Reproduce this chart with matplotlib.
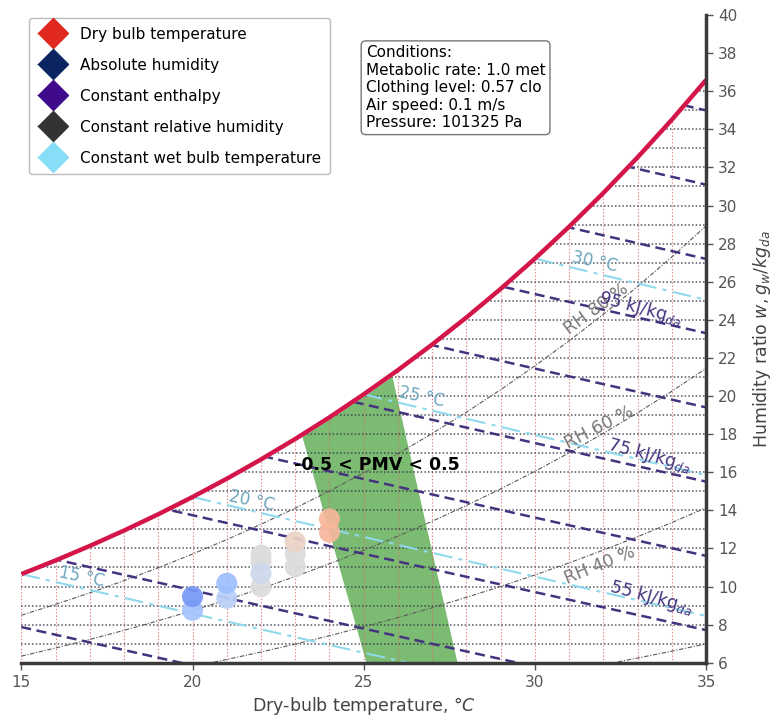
import numpy as np
import matplotlib
matplotlib.use("Agg")
import matplotlib.pyplot as plt
from matplotlib.lines import Line2D
from matplotlib import colors

# saturation vapour pressure of water (kPa) at each whole degree from 15 to 35 C
t_db = np.arange(15, 36)
p_sat = np.array([1.7057, 1.8188, 1.9384, 2.0647, 2.1983, 2.3392, 2.4878, 2.6448,
                  2.8105, 2.9852, 3.1699, 3.3639, 3.5681, 3.7831, 4.0090, 4.2470,
                  4.4969, 4.7596, 5.0354, 5.3251, 5.6290])
pressure = 101.325  # kPa

rh_levels = [20, 40, 60, 80]                                   # %
enthalpy_levels = [35, 45, 55, 65, 75, 85, 95, 105, 115, 125]  # kJ/kg_da
wet_bulb_levels = [15, 20, 25, 30]                             # C

# measured room states: dry bulb (C), humidity ratio (g/kg), PMV
pt_t = [20, 20, 21, 21, 22, 22, 22, 22, 23, 23, 23, 24, 24]
pt_w = [8.75, 9.47, 9.38, 10.17, 9.99, 11.65, 11.3, 10.69, 11.04, 11.7, 12.35, 12.85, 13.55]
pt_pmv = [-0.36, -0.64, -0.24, -0.40, 0.0, 0.0, 0.0, -0.12, 0.0, 0.0, 0.12, 0.34, 0.34]

# comfort zone -0.5 < PMV < 0.5 (clipped by the saturation curve)
zone_t = [25.08, 27.74, 25.46, 22.24]
zone_w = [6, 6, 24, 24]

conditions = ("Conditions:\nMetabolic rate: 1.0 met\nClothing level: 0.57 clo\n"
              "Air speed: 0.1 m/s\nPressure: 101325 Pa")


def w_from_pv(pv):
    return 622.0 * pv / (pressure - pv)


w_sat = w_from_pv(p_sat)

c_db = '#e06a6a'
c_abs = '#333a4a'
c_h = '#45337f'
c_rh = '#5a5a5a'
c_wb = '#8fd9ec'

fig = plt.figure(figsize=(7.73, 7.18), dpi=100)
ax = fig.add_axes([0.0276, 0.077, 0.8858, 0.9021])
ax.set_xlim(15, 35)
ax.set_ylim(6, 40)

# comfort zone
ax.fill(zone_t, zone_w, color='#7cbb72', lw=0, zorder=1)

# grid of dry bulb / humidity ratio, only below saturation
ax.vlines(t_db[:-1], 6, w_sat[:-1], color=c_db, ls=(0, (1.2, 1.8)), lw=0.8,
          alpha=0.85, zorder=2)
for w in range(7, 40):
    ax.axhline(w, color=c_abs, ls=(0, (1, 1.4)), lw=1.1, alpha=0.85, zorder=2)

# relative humidity lines
for rh in rh_levels:
    ax.plot(t_db, w_from_pv(rh / 100 * p_sat), color=c_rh, lw=0.8,
            ls=(0, (4, 1.5, 1, 1.5)), zorder=3)

# enthalpy lines
for h in enthalpy_levels:
    w_h = (h - 1.006 * t_db) / (2501 + 1.86 * t_db) * 1000
    ax.plot(t_db, w_h, color=c_h, lw=1.8, ls=(0, (4, 2.2)), zorder=3)

# wet bulb lines
for tw in wet_bulb_levels:
    ws = w_sat[tw - 15] / 1000
    tt = t_db[t_db >= tw]
    w_wb = ((2501 - 2.326 * tw) * ws - 1.006 * (tt - tw)) / (2501 + 1.86 * tt - 4.186 * tw) * 1000
    ax.plot(tt, w_wb, color=c_wb, lw=1.5, ls=(0, (9, 3, 2, 3)), zorder=3)

# blank out the region above saturation
ax.fill_between(t_db, w_sat, 42, facecolor='white', edgecolor='white', lw=2, zorder=4)
ax.plot(t_db, w_sat, color='#d4154a', lw=3.2, zorder=5, solid_capstyle='butt')

# data points
ax.scatter(pt_t, pt_w, c=pt_pmv, cmap='coolwarm', norm=colors.Normalize(-1, 1),
           s=230, alpha=0.92, edgecolors='none', zorder=6)

# line labels
ax.text(25.39, 16.38, '-0.5 < PMV < 0.5', fontsize=12.5, fontweight='bold',
        ha='center', va='center', zorder=7)
for x, y, s in [(16.77, 10.5, '15 °C'), (21.74, 14.49, '20 °C'),
                (26.7, 19.95, '25 °C'), (31.75, 27.04, '30 °C')]:
    ax.text(x, y, s, color='#6ea6bd', fontsize=12, rotation=-12,
            ha='center', va='center', zorder=7)
for x, y, s, r in [(31.9, 11.13, 'RH 40 %', 22), (31.87, 18.32, 'RH 60 %', 27),
                   (31.81, 24.57, 'RH 80 %', 36)]:
    ax.text(x, y, s, color='#777777', fontsize=12.5, rotation=r,
            ha='center', va='center', zorder=7)
for x, y, s in [(33.42, 9.4, '55 kJ/kg$_{da}$'), (33.36, 16.9, '75 kJ/kg$_{da}$'),
                (33.1, 24.6, '95 kJ/kg$_{da}$')]:
    ax.text(x, y, s, color=c_h, fontsize=12.5, rotation=-15,
            ha='center', va='center', zorder=7)

# axes styling
for side in ['left', 'top']:
    ax.spines[side].set_visible(False)
for side in ['bottom', 'right']:
    ax.spines[side].set_linewidth(2.5)
    ax.spines[side].set_color('#3a3a3a')
    ax.spines[side].set_zorder(8)
ax.yaxis.tick_right()
ax.yaxis.set_label_position('right')
ax.set_xticks([15, 20, 25, 30, 35])
ax.set_yticks(range(6, 41, 2))
ax.tick_params(colors='#555555', labelsize=11, length=5, width=1)
ax.set_xlabel('Dry-bulb temperature, °$C$', fontsize=12.5, color='#444444', labelpad=4)
ax.set_ylabel('Humidity ratio $w, g_w/kg_{da}$', fontsize=12.5, color='#444444', labelpad=10)

handles = [
    Line2D([], [], color='#e0281e', marker='D', markersize=15, ls=':', lw=0.8),
    Line2D([], [], color='#0b2563', marker='D', markersize=15, ls=':', lw=0.8),
    Line2D([], [], color='#3f0b8c', marker='D', markersize=15, ls='--', lw=0.8),
    Line2D([], [], color='#333333', marker='D', markersize=15, ls='-.', lw=0.8),
    Line2D([], [], color='#87def6', marker='D', markersize=15, ls='-.', lw=0.8),
]
labels = ['Dry bulb temperature', 'Absolute humidity', 'Constant enthalpy',
          'Constant relative humidity', 'Constant wet bulb temperature']
leg = ax.legend(handles, labels, loc='upper left', bbox_to_anchor=(0.011, 0.995),
                borderaxespad=0, fontsize=11, handlelength=2.0, handletextpad=0.8,
                labelspacing=1.05, borderpad=0.55, framealpha=1, edgecolor='#bbbbbb')
leg.set_zorder(10)

ax.text(0.503, 0.953, conditions, transform=ax.transAxes, fontsize=11,
        ha='left', va='top', zorder=10,
        bbox=dict(boxstyle='round,pad=0.3', facecolor='white', edgecolor='#777777'))

fig.savefig('out.png', dpi=100)
